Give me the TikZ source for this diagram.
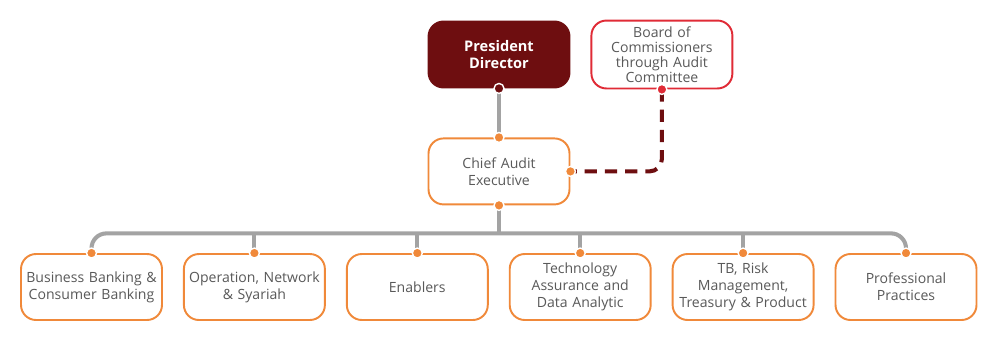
\documentclass[tikz,border=0pt]{standalone}
\usepackage{fontspec}
\setmainfont{Open Sans}
\usepackage{xcolor}
\usetikzlibrary{positioning, calc}

\definecolor{darkred}{HTML}{6E0E10}
\definecolor{boardred}{HTML}{E02B36}
\definecolor{orangeline}{HTML}{F0893A}
\definecolor{greyline}{HTML}{A3A3A3}
\definecolor{textgrey}{HTML}{595959}

\begin{document}
\begin{tikzpicture}[x=0.02cm, y=0.02cm, node distance=0.4cm]
    \tikzstyle{unit} = [rectangle, draw=orangeline, line width=1.1pt, fill=white, text=textgrey, rounded corners=0.3cm, inner xsep=0pt, minimum width=2.82cm, minimum height=1.32cm, text width=2.82cm, align=center, font=\fontsize{8}{9.6}\selectfont]
    \tikzstyle{head} = [unit, draw=darkred, fill=darkred, text=white, font=\fontsize{8.3}{9.8}\selectfont\bfseries]
    \tikzstyle{board} = [unit, draw=boardred, font=\fontsize{8}{8.6}\selectfont]
    \tikzstyle{link} = [draw=greyline, line width=2.3pt, rounded corners=0.3cm]
    \tikzstyle{oversight} = [draw=darkred, line width=2.3pt, dash pattern=on 7pt off 4.5pt, rounded corners=0.25cm]
    \tikzstyle{dot} = [circle, fill=orangeline, draw=white, line width=0.8pt, inner sep=0pt, minimum size=0.2cm]

    % canvas
    \useasboundingbox[fill=white] (0,0) rectangle (1000,353);

    \node [head] (pd) at (499,298.5) {President\\Director};
    \node [board, right=of pd] (boc) {Board of\\Commissioners\\through Audit\\Committee};
    \node [unit, below=0.98cm of pd] (cae) {Chief Audit\\Executive};

    \node [unit] (bb) at (91.5,66) {Business Banking \&\\Consumer Banking};
    \node [unit, right=of bb] (ons) {Operation, Network\\\& Syariah};
    \node [unit, right=of ons] (enb) {Enablers};
    \node [unit, right=of enb] (tad) {Technology\\Assurance and\\Data Analytic};
    \node [unit, right=of tad] (trm) {TB, Risk\\Management,\\Treasury \& Product};
    \node [unit, right=of trm] (pp) {Professional\\Practices};

    \coordinate (bus) at ($(cae.south)+(0,-0.56cm)$);

    \path [link] (pd.south) -- (cae.north);
    \path [link] (cae.south) -- (bus);
    \path [link] (bb.north) |- (bus) -| (pp.north);
    \foreach \u in {ons, enb, tad, trm}
        \path [link] (\u.north) -- (\u.north |- bus);
    \path [oversight] (boc.south) |- (cae.east);

    \node [dot, fill=darkred] at (pd.south) {};
    \node [dot, fill=boardred] at (boc.south) {};
    \foreach \u in {cae.north, cae.south, cae.east, bb.north, ons.north, enb.north, tad.north, trm.north, pp.north}
        \node [dot] at (\u) {};
\end{tikzpicture}
\end{document}
